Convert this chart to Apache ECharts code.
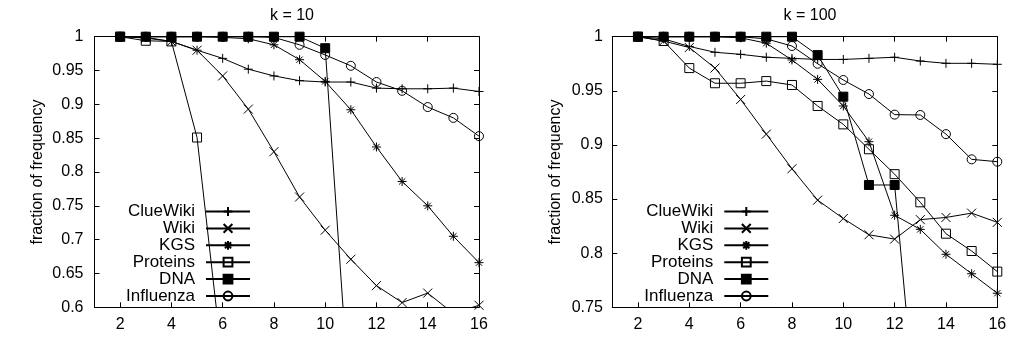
<!DOCTYPE html>
<html>
<head>
<meta charset="utf-8">
<script src="https://cdn.jsdelivr.net/npm/echarts@6/dist/echarts.min.js"></script>
<style>
  html, body { margin: 0; padding: 0; background: #fff; }
  #main { width: 1010px; height: 337px; }
</style>
</head>
<body>
<div id="main"></div>
<script>
// x 轴取值 (2..16)
var xs = [2, 3, 4, 5, 6, 7, 8, 9, 10, 11, 12, 13, 14, 15, 16];
var xTicks = [2, 4, 6, 8, 10, 12, 14, 16];
var names = ['ClueWiki', 'Wiki', 'KGS', 'Proteins', 'DNA', 'Influenza'];

// k = 10
var clueWiki10 = [1, 0.999, 0.993, 0.980, 0.968, 0.952, 0.942, 0.935, 0.933, 0.933, 0.924, 0.923, 0.923, 0.924, 0.919];
var wiki10 = [1, 0.998, 0.993, 0.980, 0.942, 0.893, 0.830, 0.763, 0.714, 0.671, 0.632, 0.607, 0.621, 0.591, 0.603];
var kgs10 = [1, 1, 1, 1, 0.999, 0.997, 0.988, 0.966, 0.934, 0.892, 0.837, 0.786, 0.750, 0.705, 0.666];
var proteins10 = [1, 0.994, 0.993, 0.851, 0.516];
var dna10 = [1, 1, 1, 1, 1, 1, 1, 1, 0.983, 0.432];
var influenza10 = [1, 1, 1, 1, 1, 1, 0.999, 0.988, 0.973, 0.957, 0.933, 0.920, 0.896, 0.880, 0.853];

// k = 100
var clueWiki100 = [1, 0.998, 0.991, 0.9856, 0.9837, 0.981, 0.980, 0.979, 0.979, 0.980, 0.981, 0.9775, 0.9754, 0.9754, 0.9745];
var wiki100 = [1, 0.996, 0.990, 0.971, 0.942, 0.910, 0.878, 0.849, 0.832, 0.817, 0.813, 0.831, 0.833, 0.837, 0.8285];
var kgs100 = [1, 1, 1, 1, 0.999, 0.994, 0.9785, 0.9606, 0.936, 0.903, 0.835, 0.822, 0.799, 0.781, 0.763];
var proteins100 = [1, 0.996, 0.971, 0.957, 0.957, 0.959, 0.9554, 0.936, 0.919, 0.896, 0.873, 0.847, 0.818, 0.802, 0.783];
var dna100 = [1, 1, 1, 1, 1, 1, 1, 0.983, 0.9446, 0.863, 0.863, 0.606];
var influenza100 = [1, 1, 1, 1, 1, 0.998, 0.9914, 0.975, 0.960, 0.947, 0.928, 0.9277, 0.910, 0.8867, 0.8845];

var chart = echarts.init(document.getElementById('main'));
var black = '#000';
var font = 'Liberation Sans, Arial, Helvetica, sans-serif';
var fs = 16;

// 点的样式
var marks = [
  { symbol: 'path://M5 0L5 10M0 5L10 5', fill: 'transparent' },
  { symbol: 'path://M0 0L10 10M10 0L0 10', fill: 'transparent' },
  { symbol: 'path://M5 0L5 10M0 5L10 5M1.5 1.5L8.5 8.5M8.5 1.5L1.5 8.5', fill: 'transparent' },
  { symbol: 'rect', fill: 'transparent' },
  { symbol: 'rect', fill: black },
  { symbol: 'circle', fill: 'transparent' }
];

function pairs (vals) {
  return vals.map(function (v, i) { return [xs[i], v]; });
}

function makeSeries (idx, lists) {
  return lists.map(function (vals, i) {
    return {
      name: names[i],
      type: 'line',
      xAxisIndex: idx,
      yAxisIndex: idx,
      data: pairs(vals),
      symbol: marks[i].symbol,
      symbolSize: 9,
      clip: true,
      lineStyle: { color: black, width: 1 },
      itemStyle: { color: marks[i].fill, borderColor: black, borderWidth: 1 },
      emphasis: { disabled: true }
    };
  });
}

function xAxis (gridIndex, pos) {
  return {
    type: 'value',
    gridIndex: gridIndex,
    position: pos,
    min: 1,
    max: 16,
    axisLine: { show: true, onZero: false, lineStyle: { color: black, width: 1 } },
    axisTick: { show: true, inside: true, length: 5, customValues: xTicks, lineStyle: { color: black } },
    axisLabel: { show: pos === 'bottom', customValues: xTicks, color: black, fontSize: fs, margin: 9, fontFamily: font },
    splitLine: { show: false }
  };
}

function yAxis (gridIndex, pos, min, labelGap) {
  return {
    type: 'value',
    gridIndex: gridIndex,
    position: pos,
    min: min,
    max: 1,
    interval: 0.05,
    name: pos === 'left' ? 'fraction of frequency' : '',
    nameLocation: 'middle',
    nameGap: 49,
    nameTextStyle: { color: black, fontSize: fs, fontFamily: font },
    axisLine: { show: true, onZero: false, lineStyle: { color: black, width: 1 } },
    axisTick: { show: true, inside: true, length: 5, lineStyle: { color: black } },
    axisLabel: { show: pos === 'left', color: black, fontSize: fs, margin: labelGap, fontFamily: font },
    splitLine: { show: false }
  };
}

// 图例: 每项单独放置, 文字右对齐
function makeLegends (rightPx, firstTop) {
  return names.map(function (n, i) {
    return {
      data: [n],
      orient: 'vertical',
      align: 'right',
      right: rightPx,
      top: firstTop + i * 16.9,
      itemWidth: 44,
      itemHeight: 11,
      itemGap: 0,
      padding: 0,
      selectedMode: false,
      textStyle: { color: black, fontSize: 17, fontFamily: font, padding: [0, 6, 0, 0] }
    };
  });
}

var option = {
  animation: false,
  textStyle: { fontFamily: font },
  title: [
    { text: 'k = 10', left: 287, top: 3, textAlign: 'center', textStyle: { color: black, fontSize: fs, fontWeight: 'normal', fontFamily: font } },
    { text: 'k = 100', left: 805, top: 3, textAlign: 'center', textStyle: { color: black, fontSize: fs, fontWeight: 'normal', fontFamily: font } }
  ],
  grid: [
    { left: 94.5, right: 531, top: 36.7, bottom: 29.7, containLabel: false },
    { left: 612.3, right: 12.7, top: 36.7, bottom: 29.7, containLabel: false }
  ],
  xAxis: [xAxis(0, 'bottom'), xAxis(0, 'top'), xAxis(1, 'bottom'), xAxis(1, 'top')],
  yAxis: [yAxis(0, 'left', 0.6, 11), yAxis(0, 'right', 0.6, 11), yAxis(1, 'left', 0.75, 9.5), yAxis(1, 'right', 0.75, 9.5)],
  legend: makeLegends(759, 203).concat(makeLegends(240.7, 203)),
  series: makeSeries(0, [clueWiki10, wiki10, kgs10, proteins10, dna10, influenza10])
    .concat(makeSeries(2, [clueWiki100, wiki100, kgs100, proteins100, dna100, influenza100]))
};
chart.setOption(option, true);
</script>
</body>
</html>
